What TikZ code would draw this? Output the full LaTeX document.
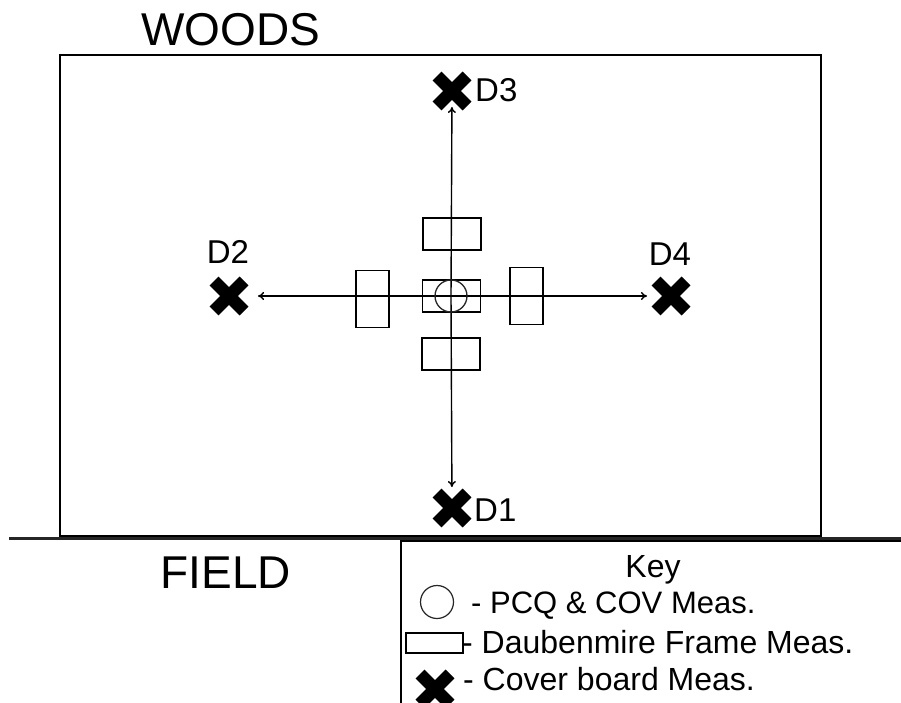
\documentclass[tikz,border=0pt]{standalone}
\usepackage{fontspec}
\setmainfont{Liberation Sans}
\usetikzlibrary{arrows.meta}
\tikzset{
  boxline/.style={draw, line width=1.6pt},
  frame/.style={draw, line width=1.6pt, inner sep=0pt, minimum width=58pt, minimum height=32pt},
  vframe/.style={frame, minimum width=33pt, minimum height=57pt},
  ring/.style={draw, circle, line width=1.3pt, draw=black!85, inner sep=0pt, minimum size=32pt},
  transect/.style={line width=1.4pt, -{To[length=6pt,width=8pt]}},
  big/.style={font=\fontsize{46}{48}\selectfont, inner sep=0pt},
  dlab/.style={font=\fontsize{33}{35}\selectfont, inner sep=0pt},
  keytext/.style={font=\fontsize{32}{34}\selectfont, inner sep=0pt, anchor=base west},
  xmark/.pic={\draw[line width=12.5pt] (-15,-15) -- (15,15) (-15,15) -- (15,-15);}
}
\begin{document}
\begin{tikzpicture}[x=1pt, y=-1pt]
\useasboundingbox (0,0) rectangle (901,703);
\clip (0,0) rectangle (901,703);
\fill[white] (0,0) rectangle (901,703);
% site boundary
\draw[boxline] (60,55) rectangle (821,536);
\draw[line width=2.6pt, black!85] (9,538.5) -- (901,538.5);
% labels
\node[big, anchor=base] (woods) at (231,46) {WOODS};
\node[big, anchor=base] (field) at (226,588) {FIELD};
% centre and frames
\coordinate (o) at (451,296);
\coordinate (d3) at (452,91);
\coordinate (d1) at (452,508);
\coordinate (d2) at (229,296);
\coordinate (d4) at (671,296);
\draw[transect, shorten >=16pt] (o) -- (d3);
\draw[transect, shorten >=21pt] (o) -- (d1);
\draw[transect, shorten >=29pt] (o) -- (d2);
\draw[transect, shorten >=24pt] (o) -- (d4);
\node[frame] (fc) at (451.5,296) {};
\node[ring] (pcq) at (o) {};
\node[frame] (ft) at (452,234) {};
\node[frame] (fb) at (451,354) {};
\node[vframe] (fl) at (372.5,299) {};
\node[vframe] (fr) at (526.5,296) {};
% cover boards
\pic at (d3) {xmark};
\pic at (d1) {xmark};
\pic at (d2) {xmark};
\pic at (d4) {xmark};
\node[dlab, anchor=west] (l3) at (475,90) {D3};
\node[dlab, anchor=west] (l1) at (474,510) {D1};
\node[dlab] (l2) at (228,252) {D2};
\node[dlab] (l4) at (670,254) {D4};
% key
\draw[line width=1.5pt] (401,541) rectangle (960,760);
\node[keytext, anchor=base] (key) at (653,577) {Key};
\node[ring, minimum size=33pt, line width=1.2pt] (kc) at (437,602) {};
\node[keytext, font=\fontsize{31}{33}\selectfont] (k1) at (471,613) {- PCQ \& COV Meas.};
\node[draw, line width=1.3pt, inner sep=0pt, minimum width=57pt, minimum height=20pt] (kr) at (434.5,643) {};
\node[keytext] (k2) at (462,653) {- Daubenmire Frame Meas.};
\coordinate (kx) at (435,689);
\pic at (kx) {xmark};
\node[keytext] (k3) at (463,690) {- Cover board Meas.};
\end{tikzpicture}
\end{document}
